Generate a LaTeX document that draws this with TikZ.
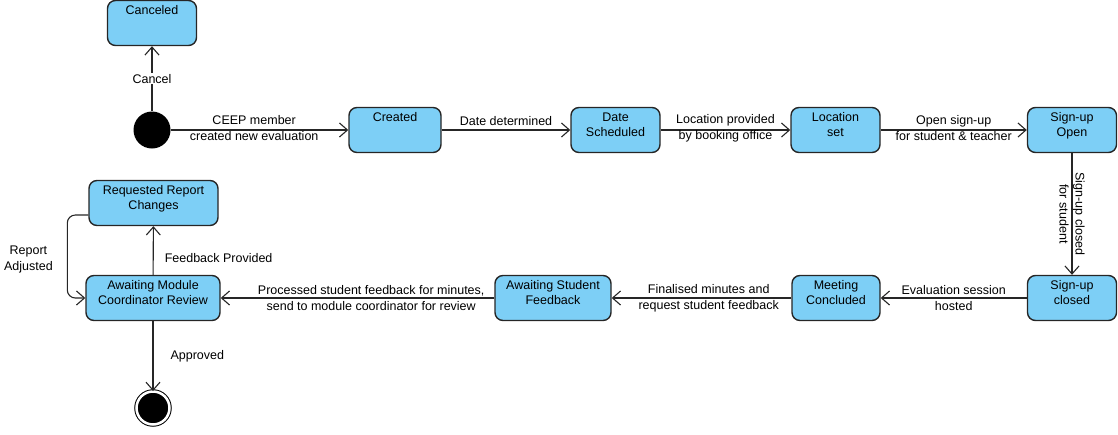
\documentclass[tikz,border=0pt]{standalone}
\usepackage{fontspec}
\setmainfont{Liberation Sans}
\usetikzlibrary{arrows.meta}
\definecolor{statefill}{RGB}{125,207,246}
\newcommand{\stxt}[1]{\begin{tabular}[t]{@{}c@{}}#1\end{tabular}}

\begin{document}
\begin{tikzpicture}[x=1pt, y=-1pt,
  font=\fontsize{12.5}{16}\selectfont,
  state/.style={draw=black!85, line width=1.4pt, fill=statefill, rounded corners=8pt,
    inner sep=0pt, text height=13.5pt, text depth=31.5pt, minimum width=#1},
  state/.default=89pt,
  trans/.style={draw=black!85, line width=1.1pt, -{Straight Barb[length=8pt,width=14pt]}},
  lbl/.style={align=center, inner sep=1pt}]
  \useasboundingbox (0,0) rectangle (1118,434);

  % Start and end
  \node[circle, fill=black, inner sep=0pt, minimum size=37pt] (in) at (152,130) {};
  \node[circle, fill=black, draw=black, line width=1pt, double=white, double distance=2.5pt,
    inner sep=0pt, minimum size=33pt] (fn) at (153,408) {};

  % States, top row
  \node[state] (cn) at (152,23) {\stxt{Canceled}};
  \node[state=92pt] (cr) at (395,130) {\stxt{Created}};
  \node[state] (ds) at (615.5,130) {\stxt{Date\\[-1pt]Scheduled}};
  \node[state] (ls) at (835.5,130) {\stxt{Location\\[-1pt]set}};
  \node[state] (so) at (1072,130) {\stxt{Sign-up\\[-1pt]Open}};

  % States, bottom row
  \node[state] (sc) at (1072,298) {\stxt{Sign-up\\[-1pt]closed}};
  \node[state=88pt] (mc) at (836,298) {\stxt{Meeting\\[-1pt]Concluded}};
  \node[state=116pt] (sf) at (553,298) {\stxt{Awaiting Student\\[-1pt]Feedback}};
  \node[state=134pt] (mr) at (153,298) {\stxt{Awaiting Module\\[-1pt]Coordinator Review}};
  \node[state=129pt] (rr) at (153.5,203) {\stxt{Requested Report\\[-1pt]Changes}};

  \draw[trans] (in) -- node[lbl, fill=white] {Cancel} (cn);
  \draw[trans] (in) -- node[lbl, yshift=2pt, pos=0.47] {CEEP member\\created new evaluation} (cr);
  \draw[trans] (cr) -- node[lbl, above=3pt] {Date determined} (ds);
  \draw[trans] (ds) -- node[lbl, yshift=2pt] {Location provided\\by booking office} (ls);
  \draw[trans] (ls) -- node[lbl, yshift=2pt] {Open sign-up\\for student \& teacher} (so);
  \draw[trans] (so) -- node[lbl, rotate=-90] {Sign-up closed\\for student} (sc);
  \draw[trans] (sc) -- node[lbl] {Evaluation session\\hosted} (mc);
  \draw[trans] (mc) -- node[lbl, pos=0.46] {Finalised minutes and\\request student feedback} (sf);
  \draw[trans] (sf) -- node[lbl, pos=0.45] {Processed student feedback for minutes,\\send to module coordinator for review} (mr);
  \draw[trans] (mr) -- node[lbl, right=10pt, pos=0.35] {Feedback Provided} (rr);
  \draw[trans, rounded corners=8pt] ([yshift=-12pt]rr.west)
    -| node[lbl, pos=0.77, left=13pt] {Report\\Adjusted} ([xshift=-18pt]mr.west) -- (mr.west);
  \draw[trans] (mr) -- node[lbl, right=16pt] {Approved} (fn);
\end{tikzpicture}
\end{document}
